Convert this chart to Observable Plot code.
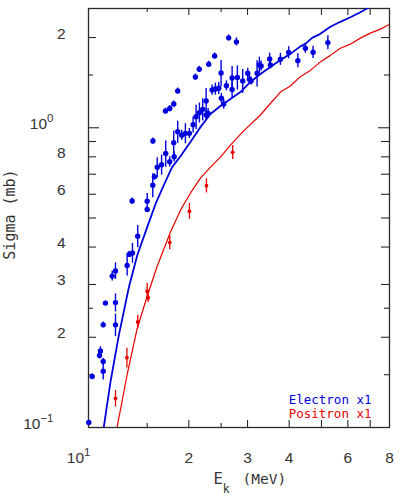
<!DOCTYPE html>
<html>
<head>
<meta charset="utf-8">
<script src="https://cdn.jsdelivr.net/npm/d3@7"></script>
<script src="https://cdn.jsdelivr.net/npm/@observablehq/plot@0.6"></script>
<style>
  html, body { margin: 0; padding: 0; background: #fff; }
  #chart svg { display: block; }
</style>
</head>
<body>
<div id="chart"></div>
<script>
// Electron measurements: kinetic energy (MeV), cross section (mb), error (mb)
const electronE = [10.02, 10.26, 10.79, 10.86, 11.07, 11.07, 11.07, 11.24, 12.05, 12.05,
  11.78, 12.05, 13.06, 13.24, 13.55, 13.52, 14.05, 15.0, 15.0, 15.59,
  15.61, 15.77, 16.08, 16.57, 17.05, 17.53, 18.07, 18.02, 17.02, 17.53,
  18.02, 18.52, 18.52, 19.04, 19.53, 20.08, 20.6, 21.03, 21.52, 22.01,
  22.54, 22.54, 22.85, 20.93, 21.49, 22.95, 23.9, 23.49, 24.03, 24.59,
  24.99, 25.04, 25.45, 25.93, 26.34, 27.78, 26.97, 26.97, 27.97, 29.02,
  30.04, 30.4, 30.75, 32.05, 32.56, 32.95, 34.96, 35.13, 37.65, 39.86,
  42.48, 44.74, 47.19, 52.26];
const electronSigma = [0.104, 0.148, 0.174, 0.180, 0.166, 0.154, 0.220, 0.260, 0.220, 0.261,
  0.320, 0.333, 0.347, 0.378, 0.382, 0.570, 0.435, 0.569, 0.534, 0.643,
  0.903, 0.686, 0.738, 0.753, 0.821, 0.770, 0.800, 0.892, 1.137, 1.159,
  1.200, 1.327, 0.970, 0.945, 0.958, 0.958, 1.023, 1.088, 1.123, 1.152,
  1.228, 1.103, 1.117, 1.477, 1.568, 1.630, 1.737, 1.337, 1.347, 1.354,
  1.523, 1.254, 1.200, 1.381, 1.995, 1.935, 1.466, 1.342, 1.472, 1.433,
  1.520, 1.451, 1.433, 1.520, 1.621, 1.608, 1.697, 1.621, 1.693, 1.782,
  1.675, 1.843, 1.787, 1.924];
const electronErr = [0.002, 0.003, 0.005, 0.006, 0.004, 0.010, 0.005, 0.004, 0.019, 0.018,
  0.012, 0.021, 0.027, 0.009, 0.029, 0.013, 0.037, 0.035, 0.012, 0.059,
  0.021, 0.016, 0.057, 0.058, 0.082, 0.030, 0.031, 0.083, 0.026, 0.027,
  0.028, 0.031, 0.082, 0.036, 0.074, 0.037, 0.063, 0.101, 0.086, 0.098,
  0.123, 0.043, 0.043, 0.034, 0.036, 0.038, 0.040, 0.052, 0.062, 0.063,
  0.153, 0.048, 0.046, 0.053, 0.046, 0.060, 0.136, 0.083, 0.136, 0.132,
  0.059, 0.056, 0.044, 0.152, 0.100, 0.062, 0.078, 0.050, 0.078, 0.082,
  0.090, 0.071, 0.083, 0.104];

// Positron measurements
const positronE = [12.05, 13.04, 14.05, 15.0, 15.1, 17.53, 20.08, 22.59, 27.08];
const positronSigma = [0.125, 0.171, 0.225, 0.285, 0.271, 0.414, 0.527, 0.641, 0.828];
const positronErr = [0.008, 0.013, 0.012, 0.018, 0.010, 0.022, 0.032, 0.035, 0.045];

// Calculated cross sections
const electronCurveE = [11.11, 11.64, 12.33, 13.21, 14.0, 15.0, 15.88, 16.82, 17.82, 18.88,
  20.22, 21.67, 23.22, 24.88, 26.66, 28.57, 30.61, 32.8, 35.13, 37.65,
  40.34, 43.22, 44.74, 46.86, 49.62, 53.17, 56.97, 61.05, 65.42, 69.13, 72.5];
const electronCurveSigma = [0.100, 0.142, 0.203, 0.293, 0.375, 0.466, 0.556, 0.643, 0.739, 0.804,
  0.896, 1.005, 1.111, 1.182, 1.247, 1.316, 1.422, 1.512, 1.596, 1.684,
  1.764, 1.869, 1.905, 1.995, 2.058, 2.172, 2.257, 2.337, 2.428, 2.513, 2.6];
const positronCurveE = [12.18, 13.09, 14.0, 15.0, 16.07, 17.61, 18.88, 20.22, 21.67, 23.22,
  24.88, 26.66, 29.16, 32.8, 35.13, 37.65, 40.34, 43.22, 46.31, 49.62,
  53.17, 56.97, 61.05, 65.42, 70.09, 75.1, 80.0];
const positronCurveSigma = [0.100, 0.152, 0.214, 0.274, 0.345, 0.448, 0.531, 0.605, 0.679, 0.739,
  0.798, 0.875, 0.975, 1.103, 1.205, 1.316, 1.379, 1.481, 1.554, 1.659,
  1.744, 1.843, 1.901, 1.991, 2.069, 2.134, 2.214];

// Axis ticks and labels
const xTicksMajor = [20, 30, 40, 50, 60, 70];
const xTicksMinor = [15, 25];
const xLabelValues = [20, 30, 40, 60, 80];
const xLabelTexts = ["2", "3", "4", "6", "8"];
const xDecadeValues = [10];
const xDecadeTexts = ["10^1"];
const yTicksDecade = [1];
const yTicksMajor = [2, 0.9, 0.8, 0.7, 0.6, 0.5, 0.4, 0.3, 0.2];
const yTicksMinor = [1.5, 0.25, 0.15];
const yLabelValues = [2, 0.8, 0.6, 0.4, 0.3, 0.2];
const yLabelTexts = ["2", "8", "6", "4", "3", "2"];
const yDecadeValues = [1, 0.1];
const yDecadeTexts = ["10^0", "10^\u22121"];
const legendLabels = ["Electron x1", "Positron x1"];

const electronColor = "#0000dd";
const positronColor = "#e80000";
const axisColor = "#2a2a2a";
const labelFont = "Liberation Sans, Arial, sans-serif";
const titleFont = "DejaVu Sans Mono, monospace";

const W = 400, H = 496;
const mL = 88, mR = 11, mT = 8, mB = 69;
const FW = W - mL - mR, FH = H - mT - mB;

const electrons = electronE.map((e, i) => ({e, s: electronSigma[i], err: electronErr[i]}));
const positrons = positronE.map((e, i) => ({e, s: positronSigma[i], err: positronErr[i]}));
const electronCurve = electronCurveE.map((e, i) => ({e, s: electronCurveSigma[i]}));
const positronCurve = positronCurveE.map((e, i) => ({e, s: positronCurveSigma[i]}));

// inward tick marks on all four sides of the frame
function xTicks(values, len) {
  return [
    Plot.ruleX(values, {x: d => d, insetTop: FH - len, stroke: axisColor, strokeWidth: 1.1}),
    Plot.ruleX(values, {x: d => d, insetBottom: FH - len, stroke: axisColor, strokeWidth: 1.1})
  ];
}
function yTicks(values, len) {
  return [
    Plot.ruleY(values, {y: d => d, insetRight: FW - len, stroke: axisColor, strokeWidth: 1.1}),
    Plot.ruleY(values, {y: d => d, insetLeft: FW - len, stroke: axisColor, strokeWidth: 1.1})
  ];
}

const chart = Plot.plot({
  width: W,
  height: H,
  marginLeft: mL,
  marginRight: mR,
  marginTop: mT,
  marginBottom: mB,
  x: {type: "log", domain: [10, 80], axis: null},
  y: {type: "log", domain: [0.1, 2.5], axis: null},
  style: {background: "#fff", overflow: "visible"},
  marks: [
    ...xTicks(xTicksMajor, 7),
    ...xTicks(xTicksMinor, 4),
    ...yTicks(yTicksDecade, 11),
    ...yTicks(yTicksMajor, 8),
    ...yTicks(yTicksMinor, 5),
    Plot.frame({stroke: axisColor, strokeWidth: 1.3}),

    // calculated curves
    Plot.line(positronCurve, {x: "e", y: "s", stroke: positronColor, strokeWidth: 1.2, clip: true}),
    Plot.line(electronCurve, {x: "e", y: "s", stroke: electronColor, strokeWidth: 1.8, clip: true}),

    // measured points with error bars
    Plot.ruleX(electrons, {x: "e", y1: d => d.s - d.err, y2: d => d.s + d.err, stroke: electronColor, strokeWidth: 1.4}),
    Plot.dot(electrons, {x: "e", y: "s", r: 2.7, fill: electronColor, stroke: "none"}),
    Plot.ruleX(positrons, {x: "e", y1: d => d.s - d.err, y2: d => d.s + d.err, stroke: positronColor, strokeWidth: 1.3}),
    Plot.dot(positrons, {x: "e", y: "s", r: 1.9, fill: positronColor, stroke: "none"}),

    // tick labels
    Plot.text(yLabelValues, {y: d => d, text: (d, i) => yLabelTexts[i], frameAnchor: "left", textAnchor: "end", lineAnchor: "bottom", dx: -23, dy: 1, fontSize: 15.5, fontFamily: labelFont, fill: "#333"}),
    Plot.text(yDecadeValues, {y: d => d, text: (d, i) => yDecadeTexts[i], frameAnchor: "left", textAnchor: "end", lineAnchor: "bottom", dx: -35, dy: 1, fontSize: 15.5, fontFamily: labelFont, fill: "#333"}),
    Plot.text(xLabelValues, {x: d => d, text: (d, i) => xLabelTexts[i], frameAnchor: "bottom", textAnchor: "middle", lineAnchor: "bottom", dy: 35, fontSize: 15.5, fontFamily: labelFont, fill: "#333"}),
    Plot.text(xDecadeValues, {x: d => d, text: (d, i) => xDecadeTexts[i], frameAnchor: "bottom", textAnchor: "end", lineAnchor: "bottom", dx: 2, dy: 35, fontSize: 15.5, fontFamily: labelFont, fill: "#333"}),

    // axis titles
    Plot.text(["Sigma (mb)"], {text: d => d, frameAnchor: "left", rotate: -90, textAnchor: "middle", lineAnchor: "middle", dx: -78, dy: -3.5, fontSize: 15, fontFamily: titleFont, fill: "#333"}),
    Plot.text(["E_k"], {text: d => d, frameAnchor: "bottom", textAnchor: "start", lineAnchor: "bottom", dx: -25.5, dy: 56.5, fontSize: 15.5, fontFamily: titleFont, fill: "#333"}),
    Plot.text(["(MeV)"], {text: d => d, frameAnchor: "bottom", textAnchor: "start", lineAnchor: "bottom", dx: 3.5, dy: 56.5, fontSize: 14.5, fontFamily: titleFont, fill: "#333"}),

    // legend
    Plot.text([legendLabels[0]], {text: d => d, frameAnchor: "bottom-right", textAnchor: "end", lineAnchor: "bottom", dx: -18, dy: -23.5, fontSize: 12.5, fontFamily: titleFont, fill: electronColor}),
    Plot.text([legendLabels[1]], {text: d => d, frameAnchor: "bottom-right", textAnchor: "end", lineAnchor: "bottom", dx: -18, dy: -9.5, fontSize: 12.5, fontFamily: titleFont, fill: positronColor})
  ]
});

document.getElementById("chart").appendChild(chart);

// turn "a^b" / "a_b" into superscript / subscript tspans
(function applyScripts(svg) {
  const ns = "http://www.w3.org/2000/svg";
  svg.querySelectorAll("text").forEach(el => {
    const s = el.textContent;
    const m = s.match(/^([^\^_]+)([\^_])(\S+)(.*)$/);
    if (!m) return;
    const fs = parseFloat(getComputedStyle(el).fontSize) || 15;
    const shift = m[2] === "^" ? -0.45 * fs : 0.6 * fs;
    el.textContent = "";
    const base = document.createElementNS(ns, "tspan");
    base.textContent = m[1];
    el.appendChild(base);
    const sc = document.createElementNS(ns, "tspan");
    sc.setAttribute("dy", shift);
    sc.setAttribute("font-size", 0.74 * fs);
    sc.textContent = m[3];
    el.appendChild(sc);
    if (m[4]) {
      const rest = document.createElementNS(ns, "tspan");
      rest.setAttribute("dy", -shift);
      rest.textContent = m[4];
      el.appendChild(rest);
    }
  });
})(chart);
</script>
</body>
</html>
